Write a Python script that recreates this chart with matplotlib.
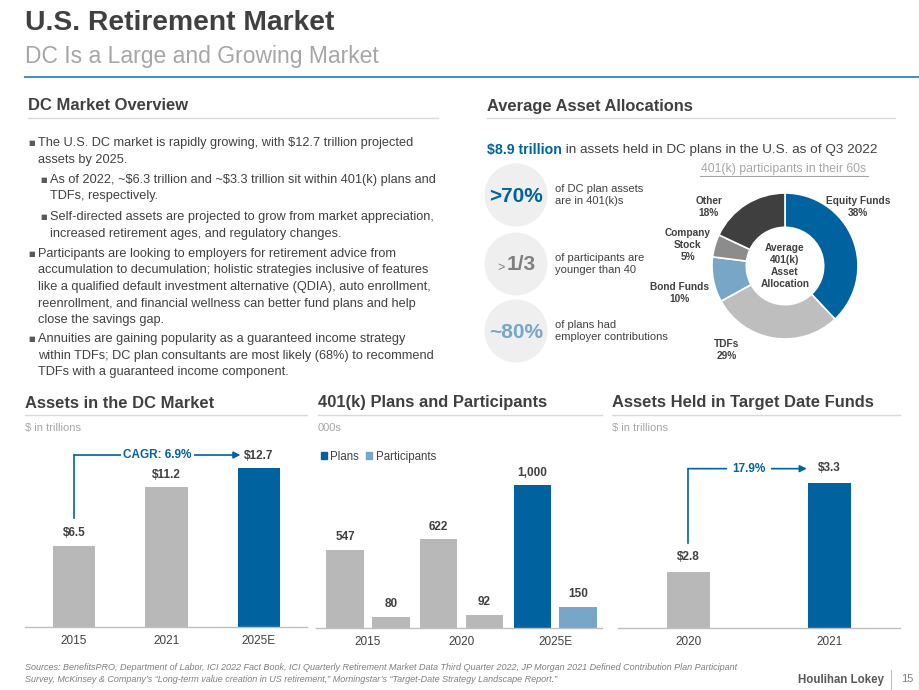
import numpy as np
import matplotlib
matplotlib.use('Agg')
import matplotlib.pyplot as plt
from matplotlib.patches import Circle, Patch

plt.rcParams['font.family'] = ['Liberation Sans', 'DejaVu Sans']
plt.rcParams['text.parse_math'] = False

# colours
DARK = '#404040'
GREY_TXT = '#A6A6A6'
BLUE = '#00639F'
LBLUE = '#78A6C6'
BAR_GREY = '#B8B8B8'
RULE = '#D9D9D9'

# data
dc_years = ['2015', '2021', '2025E']
dc_assets = [6.5, 11.2, 12.7]
dc_cagr = 'CAGR: 6.9%'

plan_years = ['2015', '2020', '2025E']
plans = [547, 622, 1000]
participants = [80, 92, 150]

tdf_years = ['2020', '2021']
tdf_assets = [2.8, 3.3]
tdf_growth = '17.9%'

alloc_labels = ['Equity Funds', 'TDFs', 'Bond Funds', 'Company\nStock', 'Other']
alloc_share = [38, 29, 10, 5, 18]
alloc_colors = [BLUE, '#BEBEBE', LBLUE, '#8C8C8C', '#3F3F3F']

bullets = [
    (0, ['The U.S. DC market is rapidly growing, with $12.7 trillion projected',
         'assets by 2025.']),
    (1, ['As of 2022, ~$6.3 trillion and ~$3.3 trillion sit within 401(k) plans and',
         'TDFs, respectively.']),
    (1, ['Self-directed assets are projected to grow from market appreciation,',
         'increased retirement ages, and regulatory changes.']),
    (0, ['Participants are looking to employers for retirement advice from',
         'accumulation to decumulation; holistic strategies inclusive of features',
         'like a qualified default investment alternative (QDIA), auto enrollment,',
         'reenrollment, and financial wellness can better fund plans and help',
         'close the savings gap.']),
    (0, ['Annuities are gaining popularity as a guaranteed income strategy',
         'within TDFs; DC plan consultants are most likely (68%) to recommend',
         'TDFs with a guaranteed income component.']),
]
bullet_y = [143, 180, 217, 254, 339]

W, H = 920, 690
fig = plt.figure(figsize=(9.2, 6.9), dpi=100)
fig.patch.set_facecolor('white')

# overlay axes in pixel coordinates
ax0 = fig.add_axes([0, 0, 1, 1])
ax0.set_xlim(0, W)
ax0.set_ylim(H, 0)
ax0.axis('off')


def px_axes(x0, y0, x1, y1):
    # rect given as pixel box (top-left origin)
    return fig.add_axes([x0 / W, 1 - y1 / H, (x1 - x0) / W, (y1 - y0) / H])


# header
ax0.text(25, 23, 'U.S. Retirement Market', fontsize=20.3, fontweight='bold',
         color=DARK, va='center')
ax0.text(25, 57, 'DC Is a Large and Growing Market', fontsize=16.5,
         color=GREY_TXT, va='center')
ax0.plot([25, 920], [77, 77], color='#4A8FC0', lw=1.5)

# section titles
def section(x, y, x_end, title):
    ax0.text(x, y, title, fontsize=11.9, fontweight='bold', color=DARK, va='center')
    ax0.plot([x, x_end], [y + 12, y + 12], color=RULE, lw=1)

section(28, 106, 438, 'DC Market Overview')
section(487, 106, 895, 'Average Asset Allocations')
section(25, 403, 307, 'Assets in the DC Market')
section(318, 403, 602, '401(k) Plans and Participants')
section(612, 403, 900, 'Assets Held in Target Date Funds')

# bullets
for (lvl, lines), y in zip(bullets, bullet_y):
    bx = 28 + lvl * 12
    ax0.text(bx, y, '\u25a0', fontsize=5, color='#595959', va='center',
             family=['DejaVu Sans'])
    for i, ln in enumerate(lines):
        ax0.text(bx + 10, y + i * 16.5, ln, fontsize=9.2, color=DARK, va='center')

# $8.9 trillion headline
t1 = ax0.text(487, 150, '$8.9 trillion', fontsize=10.2, fontweight='bold',
              color=BLUE, va='center')
ax0.annotate(' in assets held in DC plans in the U.S. as of Q3 2022', xy=(1, 0.5),
             xycoords=t1, va='center', ha='left', fontsize=9.7, color=DARK)
ax0.text(784, 169, '401(k) participants in their 60s', fontsize=8.8, color=GREY_TXT,
         ha='center', va='center')
ax0.plot([700, 868], [176, 176], color=GREY_TXT, lw=0.8)

# stat circles
stats = [(195, '>70%', BLUE, 'of DC plan assets\nare in 401(k)s'),
         (264, '1/3', '#7F7F7F', 'of participants are\nyounger than 40'),
         (331, '~80%', LBLUE, 'of plans had\nemployer contributions')]
for cy, big, col, desc in stats:
    ax0.add_patch(Circle((516, cy), 31.5, color='#EFEFEF', lw=0))
    if big == '1/3':
        ax0.text(521, cy + 1, big, fontsize=15, fontweight='bold', color=col,
                 ha='center', va='center')
        ax0.text(501, cy + 4, '>', fontsize=9, color=col, ha='center', va='center')
    else:
        ax0.text(516, cy + 1, big, fontsize=15, fontweight='bold', color=col,
                 ha='center', va='center')
    ax0.text(555, cy, desc, fontsize=8, color=DARK, va='center', linespacing=1.3)

# donut
axd = px_axes(785 - 80, 266 - 80, 785 + 80, 266 + 80)
axd.pie(alloc_share, colors=alloc_colors, startangle=90, counterclock=False,
        radius=1, wedgeprops=dict(width=0.47, edgecolor='white', linewidth=1.2))
axd.set_xlim(-80 / 73, 80 / 73)
axd.set_ylim(-80 / 73, 80 / 73)
axd.set_aspect('equal')
axd.axis('off')
axd.text(0, 0, 'Average\n401(k)\nAsset\nAllocation', ha='center', va='center',
         fontsize=7.3, fontweight='bold', color=DARK, linespacing=1.25)
label_pos = [(858, 207), (727, 350), (680, 293), (688, 245), (709, 207)]
for lab, sh, (lx, ly) in zip(alloc_labels, alloc_share, label_pos):
    ax0.text(lx, ly, f'{lab}\n{sh}%', ha='center', va='center', fontsize=7.3,
             fontweight='bold', color=DARK, linespacing=1.2)

# sub labels
ax0.text(25, 428, '$ in trillions', fontsize=8, color=GREY_TXT, va='center')
ax0.text(318, 428, '000s', fontsize=8, color=GREY_TXT, va='center')
ax0.text(612, 428, '$ in trillions', fontsize=8, color=GREY_TXT, va='center')


def style_bar_axes(ax):
    for s in ['top', 'right', 'left']:
        ax.spines[s].set_visible(False)
    ax.spines['bottom'].set_color('#BFBFBF')
    ax.spines['bottom'].set_linewidth(1)
    ax.set_yticks([])
    ax.tick_params(axis='x', length=0, labelsize=8.5, labelcolor=DARK, pad=6)
    ax.patch.set_alpha(0)


def bar_labels(ax, xs, vals, fmt, off):
    for x, v in zip(xs, vals):
        ax.text(x, v + off, fmt(v), ha='center', va='bottom', fontsize=8.5,
                fontweight='bold', color=DARK)


# chart 1: assets in DC market
ax1 = px_axes(25, 440, 307, 627)
x1 = np.arange(len(dc_years))
ax1.bar(x1, dc_assets, width=0.46, color=[BAR_GREY, BAR_GREY, BLUE])
ax1.set_xlim(-0.53, 2.52)
ax1.set_ylim(0, 14.94)
ax1.set_xticks(x1, dc_years)
style_bar_axes(ax1)
bar_labels(ax1, x1, dc_assets, lambda v: f'${v:.1f}', 0.5)
ax1.plot([0, 0], [8.7, 13.74], color=BLUE, lw=1.2, clip_on=False)
ax1.annotate('', xy=(1.80, 13.74), xytext=(0, 13.74),
             arrowprops=dict(arrowstyle='-|>', color=BLUE, lw=1.2,
                             mutation_scale=10, shrinkA=0, shrinkB=0),
             annotation_clip=False)
ax1.text(0.90, 13.74, dc_cagr, ha='center', va='center', fontsize=8.5,
         fontweight='bold', color=BLUE,
         bbox=dict(facecolor='white', edgecolor='none', pad=1.5))

# chart 2: plans and participants
ax2 = px_axes(316, 440, 602, 628)
x2 = np.arange(len(plan_years))
off = 0.245
bw = 0.40
ax2.bar(x2 - off, plans, width=bw, color=[BAR_GREY, BAR_GREY, BLUE])
ax2.bar(x2 + off, participants, width=bw, color=[BAR_GREY, BAR_GREY, LBLUE])
ax2.set_xlim(-0.556, 2.50)
ax2.set_ylim(0, 1315)
ax2.set_xticks(x2, plan_years)
style_bar_axes(ax2)
bar_labels(ax2, x2 - off, plans, lambda v: f'{v:,.0f}', 45)
bar_labels(ax2, x2 + off, participants, lambda v: f'{v:,.0f}', 45)
ax2.legend(handles=[Patch(color=BLUE, label='Plans'),
                    Patch(color=LBLUE, label='Participants')],
           loc='upper left', bbox_to_anchor=(0.0, 0.968), ncol=2, frameon=False,
           fontsize=8.3, handlelength=0.55, handleheight=0.55, handletextpad=0.3,
           columnspacing=0.6, borderaxespad=0, labelcolor=DARK)

# chart 3: target date funds
ax3 = px_axes(618, 440, 900, 628)
x3 = np.arange(len(tdf_years))
ax3.bar(x3, tdf_assets, width=0.305, color=[BAR_GREY, BLUE])
ax3.set_xlim(-0.496, 1.50)
ax3.set_ylim(2.485, 3.541)
ax3.set_xticks(x3, tdf_years)
style_bar_axes(ax3)
bar_labels(ax3, x3, tdf_assets, lambda v: f'${v:.1f}', 0.05)
ax3.plot([0, 0], [2.96, 3.38], color=BLUE, lw=1.2, clip_on=False)
ax3.annotate('', xy=(0.84, 3.38), xytext=(0, 3.38),
             arrowprops=dict(arrowstyle='-|>', color=BLUE, lw=1.2,
                             mutation_scale=10, shrinkA=0, shrinkB=0),
             annotation_clip=False)
ax3.text(0.43, 3.38, tdf_growth, ha='center', va='center', fontsize=8.5,
         fontweight='bold', color=BLUE,
         bbox=dict(facecolor='white', edgecolor='none', pad=4))

# footer
ax0.text(25, 667, "Sources: BenefitsPRO, Department of Labor, ICI 2022 Fact Book, ICI Quarterly "
         "Retirement Market Data Third Quarter 2022, JP Morgan 2021 Defined Contribution Plan Participant",
         fontsize=6.5, style='italic', color='#7F7F7F', va='center')
ax0.text(25, 680, "Survey, McKinsey & Company\u2019s \u201cLong-term value creation in US retirement,\u201d "
         "Morningstar\u2019s \u201cTarget-Date Strategy Landscape Report.\u201d",
         fontsize=6.5, style='italic', color='#7F7F7F', va='center')
ax0.text(884, 680, 'Houlihan Lokey', fontsize=8.3, fontweight='bold', color='#595959',
         ha='right', va='center')
ax0.plot([891, 891], [670, 690], color='#BFBFBF', lw=0.8)
ax0.text(907, 679, '15', fontsize=8, color='#7F7F7F', ha='center', va='center')

fig.savefig('out.png', dpi=100, facecolor='white')
